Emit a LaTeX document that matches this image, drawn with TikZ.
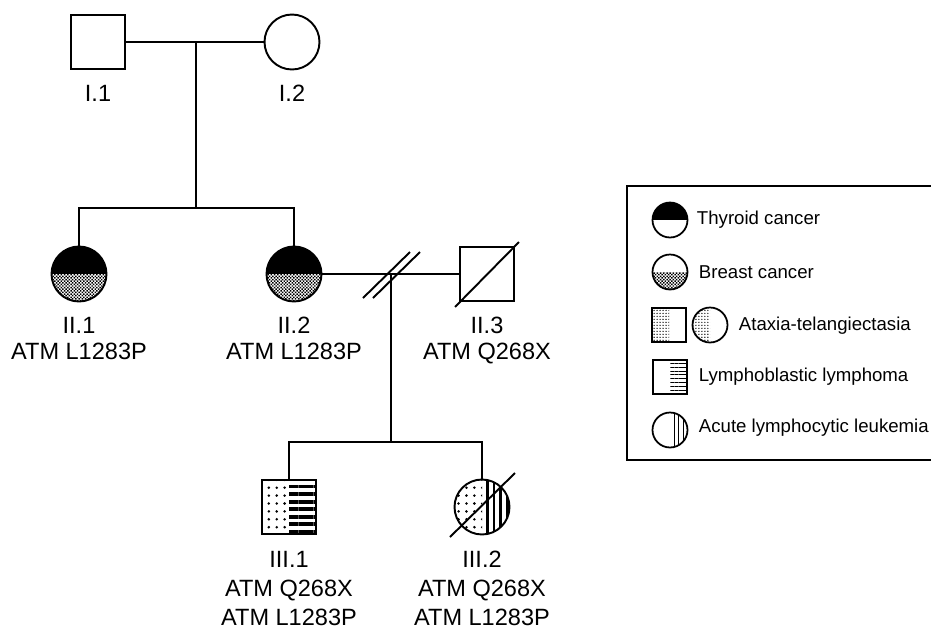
\documentclass[tikz,border=0pt]{standalone}
\usepackage{fontspec}
\setmainfont{Liberation Sans}
\usetikzlibrary{calc,patterns,patterns.meta}

\begin{document}
\begin{tikzpicture}[
  x=0.02cm, y=-0.02cm,
  line width=1.1pt,
  male/.style={draw, rectangle, minimum size=1.08cm, inner sep=0pt},
  female/.style={draw, circle, minimum size=1.1cm, inner sep=0pt},
  keymale/.style={male, minimum size=0.68cm, line width=1pt},
  keyfemale/.style={female, minimum size=0.7cm, line width=1pt},
  sides/.style 2 args={path picture={
    \path[#1] (path picture bounding box.south west) rectangle (path picture bounding box.north);
    \path[#2] (path picture bounding box.south) rectangle (path picture bounding box.north east);}},
  layers/.style 2 args={path picture={
    \path[#1] (path picture bounding box.west) rectangle (path picture bounding box.north east);
    \path[#2] (path picture bounding box.south west) rectangle (path picture bounding box.east);}},
  solid black/.style={fill=black},
  checker/.style={pattern={Dots[distance=1.3pt, angle=45, radius=0.6pt]}},
  bigdots/.style={pattern={Dots[distance=4.5pt, radius=0.8pt]}},
  finedots/.style={pattern={Dots[distance=1.7pt, radius=0.4pt]}},
  hstripes/.style={pattern={Lines[angle=0, distance=4.3pt, line width=2.2pt]}},
  vstripes/.style={pattern={Lines[angle=90, distance=3.8pt, line width=1.6pt]}},
  hlines/.style={pattern={Lines[angle=0, distance=2.2pt, line width=0.45pt]}},
  vlines/.style={pattern={Lines[angle=90, distance=2.8pt, line width=0.45pt]}},
  lbl/.style={align=center, anchor=north, inner sep=0pt},
  keytext/.style={anchor=base west, inner sep=0pt, font=\fontsize{10.6}{12}\selectfont}
]
\useasboundingbox (0,0) rectangle (931,630);
% generation I
\node[male] (p11) at (98,42) {};
\node[female] (p12) at (292,42) {};
\node[lbl, font=\fontsize{13.4}{14.8}\selectfont] (n11) at (98,84) {I.1};
\node[lbl, font=\fontsize{13.4}{14.8}\selectfont] (n12) at (292,84) {I.2};
% generation II
\node[female, layers={solid black}{checker}] (p21) at (79,274) {};
\node[female, layers={solid black}{checker}] (p22) at (294,274) {};
\node[male] (p23) at (487,274) {};
\node[lbl, font=\fontsize{13.4}{14.8}\selectfont] (n21) at (79,316) {II.1\\ATM L1283P};
\node[lbl, font=\fontsize{13.4}{14.8}\selectfont] (n22) at (294,316) {II.2\\ATM L1283P};
\node[lbl, font=\fontsize{13.4}{14.8}\selectfont] (n23) at (487,316) {II.3\\ATM Q268X};
% generation III
\node[male, sides={bigdots}{hstripes}] (p31) at (289,507) {};
\node[female, sides={bigdots}{vstripes}] (p32) at (482,507) {};
\node[lbl, font=\fontsize{13.4}{16.6}\selectfont] (n31) at (289,550) {III.1\\ATM Q268X\\ATM L1283P};
\node[lbl, font=\fontsize{13.4}{16.6}\selectfont] (n32) at (482,550) {III.2\\ATM Q268X\\ATM L1283P};
% lines
\coordinate (m1) at (196,42);
\coordinate (s2) at (196,208);
\coordinate (m2) at (391,274);
\coordinate (s3) at (391,442);
\draw (p11) -- (p12);
\draw (m1) -- (s2);
\draw (p21.north) |- (s2) -| (p22.north);
\draw (p22) -- (p23);
\draw (m2) -- (s3);
\draw (p31.north) |- (s3) -| (p32.north);
\draw ($(m2)+(-28,24)$) -- ($(m2)+(19,-22)$);
\draw ($(m2)+(-18,24)$) -- ($(m2)+(29,-22)$);
% deceased
\draw ($(p23.south west)+(-4,5)$) -- ($(p23.north east)+(4,-4)$);
\draw ($(p32)+(-32,30)$) -- ($(p32)+(33,-34)$);
% key
\draw (931,186) -| (627,460) -- (931,460);
\node[keyfemale, layers={solid black}{}] (k1) at (670,220) {};
\node[keyfemale, layers={}{checker}] (k2) at (670,272) {};
\node[keymale, sides={finedots}{}] (k3) at (669,325) {};
\node[keyfemale, sides={finedots}{}] (k4) at (710,325) {};
\node[keymale, sides={}{hlines}] (k5) at (670,377) {};
\node[keyfemale, sides={}{vlines}] (k6) at (670,430) {};
\node[keytext] (t1) at (696,224) {Thyroid cancer};
\node[keytext] (t2) at (698,278) {Breast cancer};
\node[keytext] (t3) at (738,330) {Ataxia-telangiectasia};
\node[keytext] (t4) at (698,381) {Lymphoblastic lymphoma};
\node[keytext] (t5) at (698,432) {Acute lymphocytic leukemia};
\end{tikzpicture}
\end{document}
